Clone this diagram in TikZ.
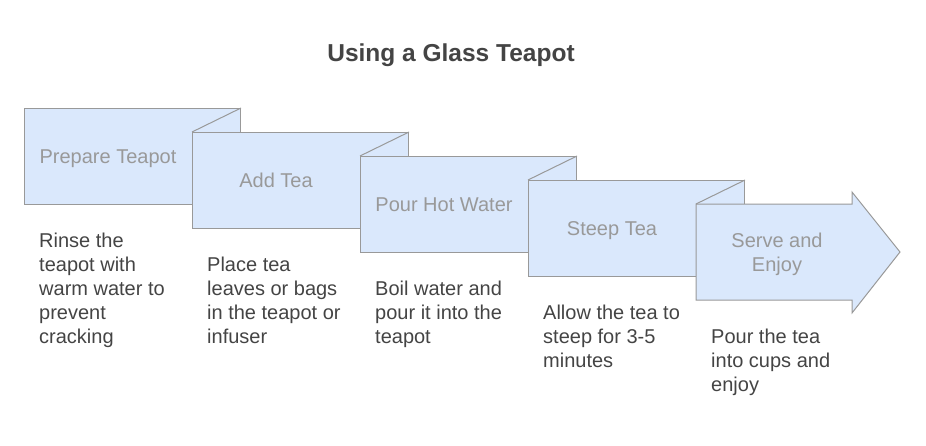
\documentclass[tikz,border=0pt]{standalone}
\usepackage{fontspec}
\setmainfont{Liberation Sans}
\usepackage{tikz}

\definecolor{stepfill}{HTML}{DAE8FC}
\definecolor{stepline}{HTML}{999999}
\definecolor{labelgray}{HTML}{999999}
\definecolor{desctext}{HTML}{444444}
\definecolor{titletext}{HTML}{444444}

\tikzset{
    stepbox/.style={draw=stepline, fill=stepfill, line width=1pt, rectangle,
        minimum width=216pt, minimum height=96pt, anchor=north west, inner sep=0pt},
    steplabel/.style={text=labelgray, font=\fontsize{20}{24}\selectfont, anchor=base, align=center, inner sep=0pt},
    stepdesc/.style={text=desctext, font=\fontsize{20}{24}\selectfont, anchor=base west, align=left, inner sep=0pt},
    foldline/.style={draw=stepline, line width=1pt}
}

\begin{document}
\begin{tikzpicture}[x=1pt,y=-1pt]
        \useasboundingbox (0,0) rectangle (926,445);
        \node[text=titletext, font=\bfseries\fontsize{24.5}{28}\selectfont] (title) at (451,55) {Using a Glass Teapot};

        % the four folded steps, each one laid over the one before
        \node[stepbox] (prepare) at (24,108) {};
        \node[stepbox] (addtea) at (192,132) {};
        \draw[foldline] (addtea.north west) -- (prepare.north east);
        \node[stepbox] (pour) at (360,156) {};
        \draw[foldline] (pour.north west) -- (addtea.north east);
        \node[stepbox] (steep) at (528,180) {};
        \draw[foldline] (steep.north west) -- (pour.north east);

        % last step is an arrow
        \coordinate (serveNW) at (696,204);
        \draw[foldline, fill=stepfill, line join=miter]
            (serveNW) -- (852,204) -- (852,192) -- (900,252) -- (852,313) -- (852,300) -- (696,300) -- cycle;
        \draw[foldline] (serveNW) -- (steep.north east);

        % step names (base = last line)
        \node[steplabel] (prepareL) at (108,163) {Prepare Teapot};
        \node[steplabel] (addteaL) at (276,187) {Add Tea};
        \node[steplabel] (pourL) at (444,211) {Pour Hot Water};
        \node[steplabel] (steepL) at (612,235) {Steep Tea};
        \node[steplabel] (serveL) at (777,271) {Serve and\\Enjoy};

        % what to do at each step
        \node[stepdesc] (prepareD) at (39,343) {Rinse the\\teapot with\\warm water to\\prevent\\cracking};
        \node[stepdesc] (addteaD) at (207,343) {Place tea\\leaves or bags\\in the teapot or\\infuser};
        \node[stepdesc] (pourD) at (375,343) {Boil water and\\pour it into the\\teapot};
        \node[stepdesc] (steepD) at (543,367) {Allow the tea to\\steep for 3-5\\minutes};
        \node[stepdesc] (serveD) at (711,391) {Pour the tea\\into cups and\\enjoy};
    \end{tikzpicture}
\end{document}
